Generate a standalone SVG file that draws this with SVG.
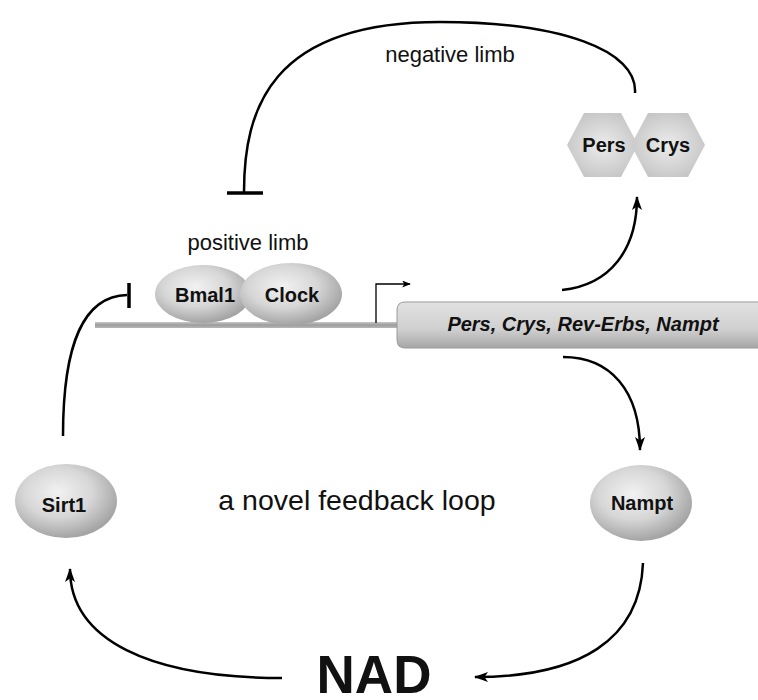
<svg xmlns="http://www.w3.org/2000/svg" width="758" height="700" viewBox="0 0 758 700">
  <defs>
    <radialGradient id="ball" cx="0.42" cy="0.38" r="0.62">
      <stop offset="0" stop-color="#f2f2f2"/>
      <stop offset="0.55" stop-color="#d6d6d6"/>
      <stop offset="1" stop-color="#a4a4a4"/>
    </radialGradient>
    <radialGradient id="hex" cx="0.5" cy="0.5" r="0.6">
      <stop offset="0" stop-color="#ececec"/>
      <stop offset="1" stop-color="#c2c2c2"/>
    </radialGradient>
    <linearGradient id="bar" x1="0" y1="0" x2="0" y2="1">
      <stop offset="0" stop-color="#e2e2e2"/>
      <stop offset="0.6" stop-color="#cfcfcf"/>
      <stop offset="1" stop-color="#a6a6a6"/>
    </linearGradient>
    <linearGradient id="dna" x1="0" y1="0" x2="0" y2="1">
      <stop offset="0" stop-color="#c8c8c8"/>
      <stop offset="0.5" stop-color="#9c9c9c"/>
      <stop offset="1" stop-color="#b8b8b8"/>
    </linearGradient>
    <marker id="arrow" viewBox="0 0 14 10" refX="13" refY="5" markerWidth="14" markerHeight="10" markerUnits="userSpaceOnUse" orient="auto">
      <path d="M0,0 L14,5 L0,10 L3.5,5 z" fill="#000"/>
    </marker>
    <marker id="small" viewBox="0 0 10 8" refX="9" refY="4" markerWidth="9" markerHeight="7" markerUnits="userSpaceOnUse" orient="auto">
      <path d="M0,0 L10,4 L0,8 L2.5,4 z" fill="#000"/>
    </marker>
  </defs>
  <style>
    .lbl { font-family: "Liberation Sans", Arial, sans-serif; font-weight: bold; font-size: 20px; fill: #111; text-anchor: middle; }
    .cap { font-family: "Liberation Sans", Arial, sans-serif; fill: #111; text-anchor: middle; }
    .edge { fill: none; stroke: #000; stroke-width: 2.5; }
    .bar { fill: none; stroke: #000; stroke-width: 3.5; }
    .node { stroke: none; }
  </style>

  <rect width="758" height="700" fill="#fff"/>

  <!-- DNA strand and promoter -->
  <g id="dna">
    <rect x="95" y="322" width="310" height="6" fill="url(#dna)"/>
    <path d="M376,323 V284 H410" fill="none" stroke="#000" stroke-width="1.3" marker-end="url(#small)"/>
  </g>

  <!-- target genes -->
  <g id="genes">
    <path d="M405,302 H770 V348 H405 Q397,348 397,340 V310 Q397,302 405,302 z" fill="url(#bar)" stroke="#9a9a9a" stroke-width="1"/>
    <text class="lbl" x="583" y="331" font-style="italic" font-size="21">Pers, Crys, Rev-Erbs, Nampt</text>
  </g>

  <g id="bmal1">
    <ellipse class="node" cx="203" cy="294" rx="48" ry="29" fill="url(#ball)"/>
    <text class="lbl" x="205" y="302">Bmal1</text>
  </g>
  <g id="clock">
    <ellipse class="node" cx="291" cy="294" rx="51" ry="31" fill="url(#ball)"/>
    <text class="lbl" x="292" y="302">Clock</text>
  </g>

  <g id="pers">
    <polygon class="node" points="567,145 584,113 621,113 638,145 621,177 584,177" fill="url(#hex)"/>
    <text class="lbl" x="604" y="152">Pers</text>
  </g>
  <g id="crys">
    <polygon class="node" points="631,145 648,113 688,113 705,145 688,177 648,177" fill="url(#hex)"/>
    <text class="lbl" x="668" y="152">Crys</text>
  </g>

  <g id="sirt1">
    <ellipse class="node" cx="66" cy="501" rx="51" ry="37" fill="url(#ball)"/>
    <text class="lbl" x="64" y="512">Sirt1</text>
  </g>

  <g id="nampt">
    <ellipse class="node" cx="641" cy="503" rx="51" ry="38" fill="url(#ball)"/>
    <text class="lbl" x="642" y="510">Nampt</text>
  </g>

  <g id="nad">
    <text class="cap" x="374" y="693" font-weight="bold" font-size="53">NAD</text>
  </g>

  <!-- captions -->
  <text class="cap" x="450" y="62" font-size="22">negative limb</text>
  <text class="cap" x="248" y="250" font-size="22">positive limb</text>
  <text class="cap" x="357" y="510" font-size="28.5">a novel feedback loop</text>

  <!-- connectors -->
  <g id="connectors">
    <!-- negative limb: Pers/Crys repress Bmal1/Clock -->
    <path class="edge" d="M635,93 C638,50 560,22 440,22 C270,22 244,110 244,192"/>
    <path class="bar" d="M227,193 H263"/>
    <!-- transcription to Pers/Crys -->
    <path class="edge" d="M562,290 C610,285 637,250 637,197" marker-end="url(#arrow)"/>
    <!-- transcription to Nampt -->
    <path class="edge" d="M563,357 C610,357 640,390 640,450" marker-end="url(#arrow)"/>
    <!-- Nampt to NAD -->
    <path class="edge" d="M643,563 C640,640 580,677 475,677" marker-end="url(#arrow)"/>
    <!-- NAD to Sirt1 -->
    <path class="edge" d="M282,678 C150,678 70,640 70,569" marker-end="url(#arrow)"/>
    <!-- Sirt1 represses Bmal1/Clock -->
    <path class="edge" d="M63,436 C63,340 85,296 127,295"/>
    <path class="bar" d="M129,283 V308"/>
  </g>
</svg>
